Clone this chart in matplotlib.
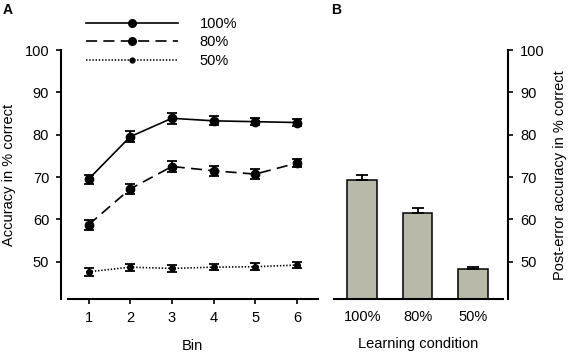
import matplotlib
matplotlib.use("Agg")
import matplotlib.pyplot as plt
from matplotlib.lines import Line2D
import numpy as np

plt.rcParams['font.family'] = ['Liberation Sans', 'DejaVu Sans']
plt.rcParams['lines.scale_dashes'] = False

# ---- data ----
bins = [1, 2, 3, 4, 5, 6]
acc_100 = [69.5, 79.55, 83.9, 83.3, 83.1, 82.9]
err_100 = [1.1, 1.3, 1.25, 1.1, 0.9, 0.8]
acc_80 = [58.7, 67.2, 72.5, 71.5, 70.7, 73.3]
err_80 = [1.2, 1.1, 1.2, 1.2, 1.2, 0.95]
acc_50 = [47.6, 48.7, 48.4, 48.7, 48.8, 49.2]
err_50 = [0.9, 0.8, 0.8, 0.7, 0.8, 0.8]

conditions = ['100%', '80%', '50%']
post_error = [69.3, 61.6, 48.3]
post_error_err = [1.2, 1.2, 0.4]

yticks = [50, 60, 70, 80, 90, 100]

W, H = 571, 354
fig = plt.figure(figsize=(W / 100, H / 100), dpi=100)

FS = 10.5
LW = 1.2
SPW = 1.5
ymin, ymax = 41.1, 100

bottom = (H - 299.3) / H
height = (299.3 - 50.2) / H

# ---- Panel A ----
axA = fig.add_axes([67.7 / W, bottom, 250 / W, height])
styles = [
    (acc_100, err_100, '-', 6, '100%'),
    (acc_80, err_80, (0, (8, 4.5)), 6, '80%'),
    (acc_50, err_50, (0, (1, 1.3)), 4, '50%'),
]
handles = []
for vals, errs, ls, ms, lab in styles:
    axA.errorbar(bins, vals, yerr=errs, color='black', lw=LW, ls=ls,
                 marker='o', ms=ms, capsize=3.5, elinewidth=1.3,
                 capthick=1.3)
    handles.append(Line2D([], [], color='black', lw=LW, ls=ls, marker='o',
                          ms=ms - 0.5, label=lab))

axA.set_xlim(0.5, 6.5)
axA.set_ylim(ymin, ymax)
axA.set_xticks(bins)
axA.set_yticks(yticks)
axA.spines['top'].set_visible(False)
axA.spines['right'].set_visible(False)
axA.spines['left'].set_position(('outward', 4.8))
for s in ['left', 'bottom']:
    axA.spines[s].set_linewidth(SPW)
axA.tick_params(axis='both', labelsize=FS, width=1.2, length=3.5)
axA.tick_params(axis='y', pad=5)
axA.tick_params(axis='x', pad=5)
axA.set_xlabel('Bin', fontsize=FS, labelpad=10)
axA.set_ylabel('Accuracy in % correct', fontsize=FS, labelpad=6)

fig.legend(handles=handles, loc='upper left',
           bbox_to_anchor=(86 / W, 1 - 17 / H),
           bbox_transform=fig.transFigure, frameon=False, fontsize=FS,
           handlelength=6.3, handletextpad=1.5, labelspacing=0.3,
           borderpad=0, borderaxespad=0, numpoints=1)

# ---- Panel B ----
axB = fig.add_axes([334 / W, bottom, 169 / W, height])
x = np.arange(len(conditions))
axB.bar(x, post_error, width=0.54, color='#b9b9aa', edgecolor='black',
        linewidth=1.1,
        yerr=[[0] * len(post_error), post_error_err],
        error_kw=dict(ecolor='black', elinewidth=1.3, capsize=4, capthick=1.3))
axB.set_xlim(-0.513, 2.549)
axB.set_ylim(ymin, ymax)
axB.set_xticks(x)
axB.set_xticklabels(conditions)
axB.set_yticks(yticks)
axB.yaxis.tick_right()
axB.yaxis.set_label_position('right')
axB.spines['top'].set_visible(False)
axB.spines['left'].set_visible(False)
axB.spines['right'].set_position(('outward', 3.8))
for s in ['right', 'bottom']:
    axB.spines[s].set_linewidth(SPW)
axB.tick_params(axis='x', length=0, labelsize=FS, pad=8)
axB.tick_params(axis='y', labelsize=FS, width=1.2, length=3.5, pad=5)
axB.set_xlabel('Learning condition', fontsize=FS, labelpad=9)
axB.set_ylabel('Post-error accuracy in % correct', fontsize=FS, labelpad=6)

fig.text(3 / W, 1 - 3 / H, 'A', fontsize=10, fontweight='bold', va='top', ha='left')
fig.text(331 / W, 1 - 3 / H, 'B', fontsize=10, fontweight='bold', va='top', ha='left')

fig.savefig('out.png', dpi=100)
